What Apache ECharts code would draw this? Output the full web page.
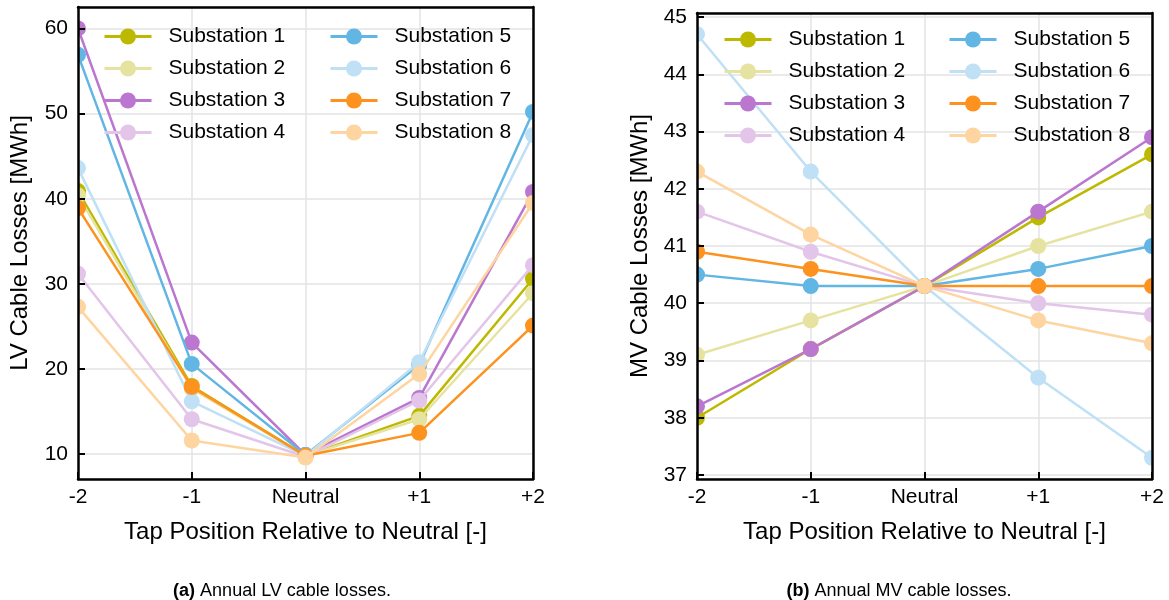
<!DOCTYPE html>
<html>
<head>
<meta charset="utf-8">
<script src="https://cdn.jsdelivr.net/npm/echarts@6/dist/echarts.min.js"></script>
<style>
  html, body { margin: 0; padding: 0; background: #fff; }
  #chart { width: 1169px; height: 600px; }
</style>
</head>
<body>
<div id="chart"></div>
<script>
// ---- Data ----
const categories = ['-2', '-1', 'Neutral', '+1', '+2'];
const seriesNames = ['Substation 1', 'Substation 2', 'Substation 3', 'Substation 4',
                     'Substation 5', 'Substation 6', 'Substation 7', 'Substation 8'];

// LV cable losses [MWh]
const lv1 = [40.9, 18.0, 9.8, 14.5, 30.6];
const lv2 = [40.4, 17.7, 9.8, 14.1, 28.9];
const lv3 = [60.0, 23.1, 9.9, 16.6, 40.8];
const lv4 = [31.2, 14.1, 9.7, 16.3, 32.2];
const lv5 = [56.9, 20.6, 9.9, 20.5, 50.2];
const lv6 = [43.6, 16.2, 9.8, 20.8, 47.5];
const lv7 = [38.9, 17.9, 9.8, 12.5, 25.1];
const lv8 = [27.3, 11.6, 9.6, 19.4, 39.5];

// MV cable losses [MWh]
const mv1 = [38.0, 39.2, 40.3, 41.5, 42.6];
const mv2 = [39.1, 39.7, 40.3, 41.0, 41.6];
const mv3 = [38.2, 39.2, 40.3, 41.6, 42.9];
const mv4 = [41.6, 40.9, 40.3, 40.0, 39.8];
const mv5 = [40.5, 40.3, 40.3, 40.6, 41.0];
const mv6 = [44.7, 42.3, 40.3, 38.7, 37.3];
const mv7 = [40.9, 40.6, 40.3, 40.3, 40.3];
const mv8 = [42.3, 41.2, 40.3, 39.7, 39.3];

const lvRange = [7.08, 62.52];
const mvRange = [36.93, 45.07];

const xTitle = 'Tap Position Relative to Neutral [-]';
const lvTitle = 'LV Cable Losses [MWh]';
const mvTitle = 'MV Cable Losses [MWh]';
const captionA = 'Annual LV cable losses.';
const captionB = 'Annual MV cable losses.';

// ---- Styles ----
const colors = ['#bdb800', '#e6e3a0', '#bb77d0', '#e3c5e9',
                '#62b6e4', '#bfe0f5', '#fd921e', '#fed4a0'];
const FONT = "'Liberation Sans', Arial, Helvetica, sans-serif";

const lvData = [lv1, lv2, lv3, lv4, lv5, lv6, lv7, lv8];
const mvData = [mv1, mv2, mv3, mv4, mv5, mv6, mv7, mv8];

const BLACK_LINE = { color: '#000', width: 2.5 };
const GRID_LINE = { color: '#e3e3e3', width: 1.5 };

// gridlines (behind the data)
function xGridAxis(gridIndex) {
  return {
    type: 'category', gridIndex, position: 'bottom', data: categories, boundaryGap: false, z: 0,
    axisLine: { show: false }, axisTick: { show: false }, axisLabel: { show: false },
    splitLine: { show: true, lineStyle: GRID_LINE }
  };
}
function yGridAxis(gridIndex, range, split) {
  return {
    type: 'value', gridIndex, position: 'left', min: range[0], max: range[1], splitNumber: split, z: 0,
    axisLine: { show: false }, axisTick: { show: false }, axisLabel: { show: false },
    splitLine: { show: true, lineStyle: GRID_LINE }
  };
}
// spines, ticks and labels (above the data)
function xMainAxis(gridIndex) {
  return {
    type: 'category', gridIndex, position: 'bottom', data: categories, boundaryGap: false, z: 20,
    axisLine: { show: true, onZero: false, lineStyle: BLACK_LINE },
    axisTick: { show: true, inside: true, length: 7, lineStyle: { color: '#000', width: 2 } },
    axisLabel: { color: '#000', fontSize: 21, fontFamily: FONT, margin: 8 },
    splitLine: { show: false },
    name: xTitle, nameLocation: 'middle', nameGap: 41,
    nameTextStyle: { color: '#000', fontSize: 24, fontFamily: FONT }
  };
}
function yMainAxis(gridIndex, range, title, gap, split) {
  return {
    type: 'value', gridIndex, position: 'left', min: range[0], max: range[1], splitNumber: split, z: 20,
    axisLine: { show: true, onZero: false, lineStyle: BLACK_LINE },
    axisTick: { show: true, inside: true, length: 7, lineStyle: { color: '#000', width: 2 } },
    axisLabel: { color: '#000', fontSize: 21, fontFamily: FONT, margin: 10,
                 showMinLabel: false, showMaxLabel: false },
    splitLine: { show: false },
    name: title, nameLocation: 'middle', nameGap: gap,
    nameTextStyle: { color: '#000', fontSize: 24, fontFamily: FONT }
  };
}
function xFrameAxis(gridIndex) {
  return {
    type: 'category', gridIndex, data: categories, boundaryGap: false, position: 'top', z: 20,
    axisLine: { show: true, onZero: false, lineStyle: BLACK_LINE },
    axisTick: { show: false }, axisLabel: { show: false }, splitLine: { show: false }
  };
}
function yFrameAxis(gridIndex, range) {
  return {
    type: 'value', gridIndex, min: range[0], max: range[1], position: 'right', z: 20,
    axisLine: { show: true, onZero: false, lineStyle: BLACK_LINE },
    axisTick: { show: false }, axisLabel: { show: false }, splitLine: { show: false }
  };
}
function legend(names, left, top) {
  return {
    data: names, orient: 'vertical', left, top, padding: 0, z: 30,
    itemWidth: 47, itemHeight: 20, itemGap: 11, selectedMode: false,
    lineStyle: { width: 3 },
    textStyle: { color: '#000', fontSize: 21, fontFamily: FONT, lineHeight: 20, padding: [0, 0, 0, 12] }
  };
}
function makeSeries(dataSets, axisIndex) {
  return dataSets.map((d, i) => ({
    name: seriesNames[i], type: 'line', data: d,
    xAxisIndex: axisIndex, yAxisIndex: axisIndex,
    z: 2 + i,
    symbol: 'circle', symbolSize: 16, showSymbol: true,
    itemStyle: { color: colors[i] },
    lineStyle: { color: colors[i], width: 2.5 },
    emphasis: { disabled: true },
    animation: false
  }));
}
// white masks that clip markers at the plot edges (like the original figure)
function mask(x, y, w, h) {
  return { type: 'rect', z: 15, silent: true, shape: { x, y, width: w, height: h }, style: { fill: '#fff' } };
}

const chart = echarts.init(document.getElementById('chart'), null, { renderer: 'canvas' });
chart.setOption({
  backgroundColor: '#fff',
  animation: false,
  textStyle: { fontFamily: FONT },
  grid: [
    { left: 78, right: 636, top: 7, bottom: 121, containLabel: false },
    { left: 697, right: 17, top: 13, bottom: 121, containLabel: false }
  ],
  xAxis: [xGridAxis(0), xGridAxis(1), xMainAxis(0), xMainAxis(1), xFrameAxis(0), xFrameAxis(1)],
  yAxis: [yGridAxis(0, lvRange, 5), yGridAxis(1, mvRange, 8),
          yMainAxis(0, lvRange, lvTitle, 46, 5), yMainAxis(1, mvRange, mvTitle, 45, 8),
          yFrameAxis(0, lvRange), yFrameAxis(1, mvRange)],
  legend: [
    legend(seriesNames.slice(0, 4), 103, 26),
    legend(seriesNames.slice(4, 8), 329, 26),
    legend(seriesNames.slice(0, 4), 723, 29),
    legend(seriesNames.slice(4, 8), 948, 29)
  ],
  graphic: {
    elements: [
      mask(68, 0, 10, 490),
      mask(533, 0, 14, 490),
      mask(688, 0, 9, 490),
      mask(1152, 0, 17, 490)
    ]
  },
  title: [
    { text: '{b|(a)} ' + captionA, left: 277, top: 577, textAlign: 'center',
      textStyle: { color: '#000', fontSize: 18, fontWeight: 'normal', fontFamily: FONT,
                   rich: { b: { fontWeight: 'bold', fontSize: 18, fontFamily: FONT, color: '#000' } } } },
    { text: '{b|(b)} ' + captionB, left: 894, top: 577, textAlign: 'center',
      textStyle: { color: '#000', fontSize: 18, fontWeight: 'normal', fontFamily: FONT,
                   rich: { b: { fontWeight: 'bold', fontSize: 18, fontFamily: FONT, color: '#000' } } } }
  ],
  series: makeSeries(lvData, 0).concat(makeSeries(mvData, 1))
});
</script>
</body>
</html>
